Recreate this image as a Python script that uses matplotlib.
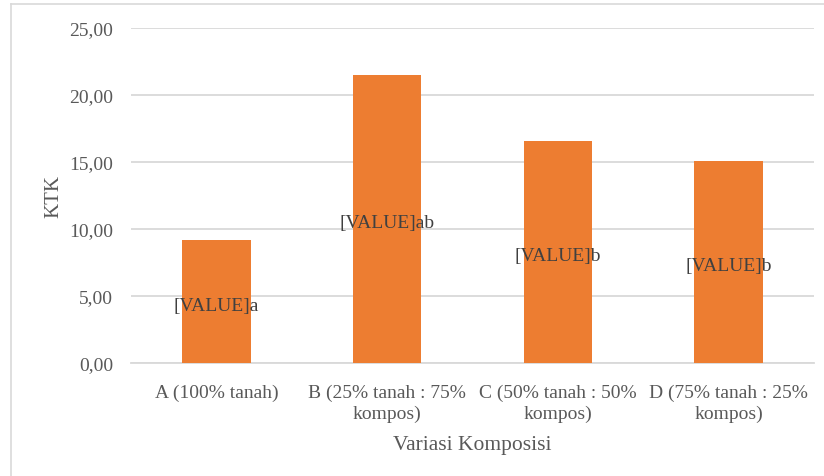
import matplotlib.pyplot as plt
from matplotlib.lines import Line2D
from matplotlib.ticker import FuncFormatter

plt.rcParams["font.family"] = ["Liberation Serif", "DejaVu Serif"]

categories = [
    "A (100% tanah)",
    "B (25% tanah : 75%\nkompos)",
    "C (50% tanah : 50%\nkompos)",
    "D (75% tanah : 25%\nkompos)",
]
ktk = [9.15, 21.5, 16.55, 15.05]
notation = ["a", "ab", "b", "b"]

W, H = 824, 477
fig = plt.figure(figsize=(W / 100, H / 100), dpi=100)
ax = fig.add_axes([131 / W, 1 - 364 / H, (814 - 131) / W, (364 - 29) / H])

x = range(len(categories))
bars = ax.bar(x, ktk, width=0.4, color="#ED7D31", zorder=3)

# data labels sit in the middle of each bar
for bar, val, sig in zip(bars, ktk, notation):
    ax.annotate("[VALUE]" + sig, (bar.get_x() + bar.get_width() / 2, val / 2),
                xytext=(0, -2.5), textcoords="offset points",
                ha="center", va="center", fontsize=14, color="#404040", zorder=4)

ax.set_xlim(-0.5, len(categories) - 0.5)
ax.set_ylim(0, 25)
ax.set_yticks([0, 5, 10, 15, 20, 25])
ax.yaxis.set_major_formatter(FuncFormatter(lambda v, _: f"{v:.2f}".replace(".", ",")))
ax.set_xticks(list(x))
ax.set_xticklabels(categories, fontsize=13.5, color="#595959", linespacing=1.3)

ax.grid(axis="y", color="#d9d9d9", linewidth=1.3, zorder=0)
for side in ["top", "right", "left"]:
    ax.spines[side].set_visible(False)
ax.spines["bottom"].set_color("#d9d9d9")
ax.spines["bottom"].set_linewidth(1.3)
ax.tick_params(axis="both", length=0, labelsize=14, labelcolor="#595959")
ax.tick_params(axis="y", pad=13)
ax.tick_params(axis="x", pad=15)

ax.set_ylabel("KTK", fontsize=15, color="#595959", labelpad=4)
ax.set_xlabel("Variasi Komposisi", fontsize=15.5, color="#595959", labelpad=9)

# chart frame
fig.add_artist(Line2D([11 / W, 1], [1 - 5 / H, 1 - 5 / H], color="#d9d9d9", linewidth=1.2))
fig.add_artist(Line2D([11 / W, 11 / W], [0, 1 - 5 / H], color="#d9d9d9", linewidth=1.2))

fig.savefig("out.png", dpi=100)
